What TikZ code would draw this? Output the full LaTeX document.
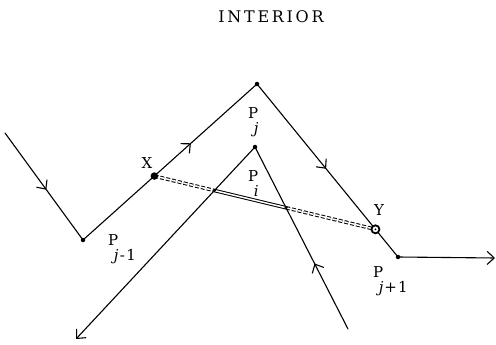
\documentclass[tikz,border=0pt]{standalone}
\usepackage{fontspec}
\setmainfont{DejaVu Serif}
\usetikzlibrary{arrows.meta,decorations.markings,calc}
\newcommand{\Psub}[1]{P\kern-4.5pt\raisebox{-15pt}{#1}}
\begin{document}
\begin{tikzpicture}[x=1pt,y=-1pt,
  edge/.style={line width=1.1pt,line cap=round,line join=round},
  midarrow/.style={postaction={decorate},decoration={markings,
     mark=at position #1 with {\arrow{Straight Barb[length=7pt,width=13pt,line width=1.1pt]}}}},
  endarrow/.style={-{Straight Barb[length=7pt,width=13pt,line width=1.1pt]}},
  lbl/.style={font=\fontsize{15}{17}\selectfont,inner sep=0pt},
  plbl/.style={lbl,anchor=base west},
  vertex/.style={circle,fill=black,inner sep=0pt,minimum size=4.5pt},
  dbl/.style={line width=1pt,double,double distance=1.5pt},
]
\useasboundingbox (0,0) rectangle (496,345);
% points
\coordinate (S1) at (5,133);
\coordinate (Pjm) at (83,240);
\coordinate (Pj) at (257,84);
\coordinate (Pjp) at (398,257);
\coordinate (E1) at (495,258);
\coordinate (S2) at (348,329);
\coordinate (Pi) at (255,147);
\coordinate (E2) at (76,339);
\coordinate (X) at ($(Pjm)!0.41!(Pj)$);
\coordinate (Y) at ($(Pj)!0.84!(Pjp)$);
\coordinate (C1) at (intersection of X--Y and Pi--E2);
\coordinate (C2) at (intersection of X--Y and Pi--S2);
% main boundary
\draw[edge,midarrow=0.53] (S1) -- (Pjm);
\draw[edge,midarrow=0.62] (Pjm) -- (Pj);
\draw[edge,midarrow=0.49] (Pj) -- (Pjp);
\draw[edge,endarrow] (Pjp) -- (E1);
% second boundary
\draw[edge,midarrow=0.36] (S2) -- (Pi);
\draw[edge,endarrow] (Pi) -- (E2);
% segment X--Y
\draw[dbl,dash pattern=on 4pt off 2pt] (X) -- (C1);
\draw[dbl] (C1) -- (C2);
\draw[dbl,dash pattern=on 4pt off 2pt] (C2) -- (Y);
% vertices
\node[vertex] (vPjm) at (Pjm) {};
\node[vertex] (vPj) at (Pj) {};
\node[vertex] (vPi) at (Pi) {};
\node[vertex] (vPjp) at (Pjp) {};
\node[vertex,minimum size=3.5pt] (vC1) at (C1) {};
\node[vertex,minimum size=3.5pt] (vC2) at (C2) {};
\node[circle,fill=black,inner sep=0pt,minimum size=7.5pt] (vX) at (X) {};
\node[circle,draw=black,line width=1.8pt,fill=white,inner sep=0pt,minimum size=8pt] (vY) at (Y) {};
\node[circle,fill=black,inner sep=0pt,minimum size=2pt] (vYc) at (Y) {};
% labels
\node[lbl,font=\fontsize{16}{18}\selectfont] (title) at (271,17) {I\kern2.7pt N\kern2.7pt T\kern2.7pt E\kern2.7pt R\kern2.7pt I\kern2.7pt O\kern2.7pt R};
\node[lbl] (lX) at (147,163) {X};
\node[lbl] (lY) at (379,210) {Y};
\node[plbl] (lPj) at (248,118) {\Psub{\itshape j}};
\node[plbl] (lPi) at (248,181) {\Psub{\itshape i}};
\node[plbl] (lPjm) at (108,245) {\Psub{{\itshape j}\kern1.5pt-\kern1.5pt1}};
\node[plbl] (lPjp) at (373,277) {\Psub{{\itshape j}\kern1pt+\kern1pt1}};
\end{tikzpicture}
\end{document}
